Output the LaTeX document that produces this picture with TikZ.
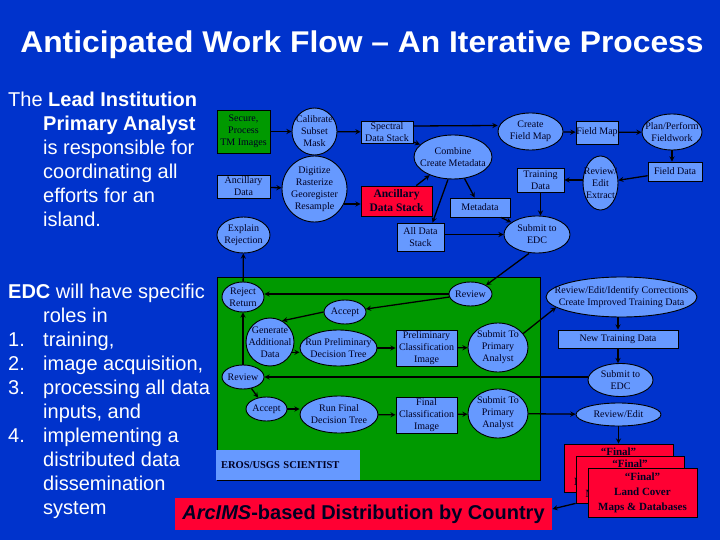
\documentclass[tikz,border=0pt]{standalone}
\usepackage{fontspec}
\usepackage{graphicx}
\usepackage{xcolor}
\setmainfont{Liberation Serif}
\newfontfamily\arialfont{Liberation Sans}
\usetikzlibrary{shapes.geometric}
\definecolor{slideblue}{HTML}{0033CC}
\definecolor{nodeblue}{HTML}{6699FF}
\definecolor{panelgreen}{HTML}{009900}
\definecolor{stackred}{HTML}{FF0033}
\definecolor{inkdark}{HTML}{000022}

\begin{document}
\begin{tikzpicture}[x=1pt, y=-1pt,
    box/.style={rectangle, draw=black, fill=nodeblue, line width=0.8pt, inner sep=0pt, align=center, text=inkdark, font=\fontsize{10}{12}\selectfont},
    oval/.style={ellipse, draw=black, fill=nodeblue, line width=0.9pt, inner sep=-20pt, align=center, text=inkdark, font=\fontsize{10}{12}\selectfont},
    greenbox/.style={box, fill=panelgreen},
    redbox/.style={box, fill=stackred, font=\bfseries\fontsize{11}{15}\selectfont},
    flow/.style={-stealth, line width=1.3pt, black},
    slidetext/.style={text=white, align=left, inner sep=0pt, font=\arialfont\fontsize{20}{24}\selectfont}]
    \fill[slideblue] (0,0) rectangle (720,540);
    \useasboundingbox (0,0) rectangle (720,540);

    \node[text=white, font=\arialfont\bfseries\fontsize{30}{36}\selectfont] (title) at (362,45) {\scalebox{1.06}[1]{Anticipated Work Flow – An Iterative Process}};

    % left column
    \node[slidetext, anchor = north west] (analyst) at (8,92) {The \textbf{Lead Institution}\\
        \hspace*{35pt}\textbf{Primary Analyst}\\
        \hspace*{35pt}is responsible for\\
        \hspace*{35pt}coordinating all\\
        \hspace*{35pt}efforts for an\\
        \hspace*{35pt}island.};
    \node[slidetext, anchor = north west] (roles) at (8,284) {\textbf{EDC} will have specific\\
        \hspace*{35pt}roles in\\
        \makebox[35pt][l]{1.}training,\\
        \makebox[35pt][l]{2.}image acquisition,\\
        \makebox[35pt][l]{3.}processing all data\\
        \hspace*{35pt}inputs, and\\
        \makebox[35pt][l]{4.}implementing a\\
        \hspace*{35pt}distributed data\\
        \hspace*{35pt}dissemination\\
        \hspace*{35pt}system};

    % lead institution part
    \node[greenbox, minimum width = 53pt, minimum height = 43pt] (secure) at (243.5,131.5) {Secure,\\Process\\TM Images};
    \node[oval, minimum width = 45pt, minimum height = 47pt] (calib) at (314.5,131.5) {Calibrate\\Subset\\Mask};
    \node[box, minimum width = 53pt, minimum height = 23pt] (ancil) at (243.5,186.5) {Ancillary\\Data};
    \node[oval, minimum width = 65pt, minimum height = 66pt] (digit) at (314.5,189) {Digitize\\Rasterize\\Georegister\\Resample};
    \node[oval, minimum width = 53pt, minimum height = 36pt] (explain) at (243.5,235) {Explain\\Rejection};
    \node[box, minimum width = 52pt, minimum height = 22pt] (spectral) at (387,132) {Spectral\\Data Stack};
    \node[redbox, minimum width = 71pt, minimum height = 30pt, font=\bfseries\fontsize{11.5}{14}\selectfont] (ancstack) at (396.5,201) {Ancillary\\Data Stack};
    \node[oval, minimum width = 78pt, minimum height = 44pt] (combine) at (453,157) {Combine\\Create Metadata};
    \node[box, minimum width = 47pt, minimum height = 28pt] (alldata) at (420.5,237) {All Data\\Stack};
    \node[box, minimum width = 60pt, minimum height = 19pt] (metadata) at (480,207.5) {Metadata};
    \node[oval, minimum width = 65pt, minimum height = 37pt] (mapping) at (530.5,131.5) {Create\\Field Map};
    \node[box, minimum width = 42pt, minimum height = 23pt] (fieldmap) at (597,132.5) {Field Map};
    \node[oval, minimum width = 60pt, minimum height = 36pt] (fieldwork) at (672,132) {Plan/Perform\\Fieldwork};
    \node[box, minimum width = 54pt, minimum height = 19pt] (fielddata) at (675,171.5) {Field Data};
    \node[oval, minimum width = 35pt, minimum height = 54pt] (extract) at (600.5,183) {Review/\\Edit\\Extract};
    \node[box, minimum width = 47pt, minimum height = 24pt] (training) at (540.5,180) {Training\\Data};
    \node[oval, minimum width = 66pt, minimum height = 37pt] (submitedc) at (537,234.5) {Submit to\\EDC};

    % EDC part
    \filldraw[fill=panelgreen, draw=black, line width=0.8pt] (217,277) rectangle (540,480);
    \node[oval, minimum width = 42pt, minimum height = 30pt] (reject) at (243,297) {Reject\\Return};
    \node[oval, minimum width = 43pt, minimum height = 24pt] (reviewtop) at (470.5,294) {Review};
    \node[oval, minimum width = 42pt, minimum height = 24pt] (accepttop) at (345,312) {Accept};
    \node[oval, minimum width = 48pt, minimum height = 48pt] (generate) at (270,342) {Generate\\Additional\\Data};
    \node[oval, minimum width = 77pt, minimum height = 36pt] (runprelim) at (338.5,348) {Run Preliminary\\Decision Tree};
    \node[box, minimum width = 61pt, minimum height = 36pt] (prelimimg) at (426.5,348) {Preliminary\\Classification\\Image};
    \node[oval, minimum width = 60pt, minimum height = 49pt] (submitprelim) at (498,347.5) {Submit To\\Primary\\Analyst};
    \node[oval, minimum width = 42pt, minimum height = 24pt] (reviewmid) at (243,377) {Review};
    \node[oval, minimum width = 41pt, minimum height = 24pt] (acceptlow) at (266.5,409) {Accept};
    \node[oval, minimum width = 78pt, minimum height = 37pt] (runfinal) at (339,414.5) {Run Final\\Decision Tree};
    \node[box, minimum width = 61pt, minimum height = 36pt] (finalimg) at (426.5,415) {Final\\Classification\\Image};
    \node[oval, minimum width = 60pt, minimum height = 49pt] (submitfinal) at (498,413.5) {Submit To\\Primary\\Analyst};
    \node[box, draw=none, minimum width = 144pt, minimum height = 30pt, inner xsep=5pt, text width=134pt, align=left, font=\bfseries\fontsize{10.5}{12}\selectfont] (eros) at (288,465) {EROS/USGS~SCIENTIST};

    \node[oval, minimum width = 151pt, minimum height = 40pt] (corrections) at (621.5,297) {Review/Edit/Identify Corrections\\Create Improved Training Data};
    \node[box, minimum width = 120pt, minimum height = 18pt] (newtrain) at (618,339) {New Training Data};
    \node[oval, minimum width = 65pt, minimum height = 33pt] (submitback) at (620.5,380) {Submit to\\EDC};
    \node[oval, minimum width = 85pt, minimum height = 23pt] (reviewedit) at (618.5,414.5) {Review/Edit};
    \node[redbox, minimum width = 109pt, minimum height = 48pt] (final1) at (618.5,468) {“Final”\\Land Cover\\Maps \& Databases};
    \node[redbox, minimum width = 108pt, minimum height = 47pt] (final2) at (630,479.5) {“Final”\\Land Cover\\Maps \& Databases};
    \node[redbox, minimum width = 109pt, minimum height = 49pt] (final3) at (642.5,492.5) {“Final”\\Land Cover\\Maps \& Databases};
    \node[redbox, draw=none, minimum width = 377pt, minimum height = 32pt, font=\arialfont\bfseries\fontsize{20}{24}\selectfont] (arcims) at (363.5,514) {\textit{ArcIMS}-based Distribution by Country};

    % connectors
    \draw[flow] (secure) -- (calib);
    \draw[flow] (calib) -- (spectral);
    \draw[flow] (ancil) -- (digit);
    \draw[flow] (digit.-27) -- (digit.-27 -| ancstack.west);
    \draw[flow] ([yshift=6pt]spectral.east) -- ([yshift=6pt]mapping.west);
    \draw[flow] (spectral) -- (combine);
    \draw[flow] (ancstack) -- (combine);
    \draw[flow] ([xshift=-5pt]combine.south) -- ([xshift=12pt]alldata.north);
    \draw[flow] (combine) -- (metadata);
    \draw[flow] (metadata) -- (submitedc);
    \draw[flow] (alldata.east |- submitedc.west) -- (submitedc.west);
    \draw[flow] (training.south) -- (training.south |- submitedc.north);
    \draw[flow] (mapping) -- (fieldmap);
    \draw[flow] (fieldmap) -- (fieldwork);
    \draw[flow] (fieldwork.south) -- (fieldwork.south |- fielddata.north);
    \draw[flow] (fielddata) -- (extract);
    \draw[flow] (extract.west |- training.east) -- (training.east);
    \draw[flow] ([xshift=-8pt]submitedc.south) -- (reviewtop.north east);
    \draw[flow] (reviewtop.west) -- (reviewtop.west -| reject.east);
    \draw[flow] (reviewtop) -- (accepttop);
    \draw[flow] (accepttop.west) -- (generate.60);
    \draw[flow] (reject) -- (explain);
    \draw[flow] (generate.-25) -- (generate.-25 -| runprelim.west);
    \draw[flow] (runprelim) -- (prelimimg);
    \draw[flow] (prelimimg) -- (submitprelim);
    \draw[flow] (submitprelim.29) -- (corrections.189);
    \draw[flow] (corrections.south -| newtrain.north) -- (newtrain.north);
    \draw[flow] (newtrain.south) -- (newtrain.south |- submitback.north);
    \draw[flow] (submitback.west |- reviewmid.east) -- (reviewmid.east);
    \draw[flow] (reviewmid) -- (reject);
    \draw[flow] (reviewmid) -- (acceptlow);
    \draw[flow] (acceptlow.east) -- (acceptlow.east -| runfinal.west);
    \draw[flow] (runfinal) -- (finalimg);
    \draw[flow] (finalimg) -- (submitfinal);
    \draw[flow] (submitfinal) -- (reviewedit);
    \draw[flow] (reviewedit) -- (final1);
    \draw[flow] (final2.south west) -- ([yshift=5pt]arcims.east);
\end{tikzpicture}
\end{document}
